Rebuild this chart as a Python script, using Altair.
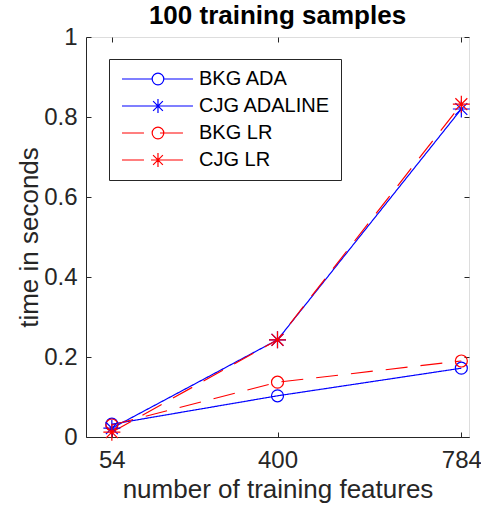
import altair as alt
import pandas as pd

# ---- data ----
series = ["BKG ADA", "CJG ADALINE", "BKG LR", "CJG LR"]
features = [54, 400, 784]
bkg_ada = [0.032, 0.103, 0.172]
cjg_adaline = [0.022, 0.243, 0.820]
bkg_lr = [0.030, 0.137, 0.190]
cjg_lr = [0.012, 0.243, 0.832]
x_ticks = [54, 400, 784]
y_ticks = [0, 0.2, 0.4, 0.6, 0.8, 1]

colors = ["#0000ff", "#0000ff", "#ff0000", "#ff0000"]
markers = ["circle", "star", "circle", "star"]
family = ["ADA", "ADA", "LR", "LR"]

values = [bkg_ada, cjg_adaline, bkg_lr, cjg_lr]
rows = []
for s, m, f, vals in zip(series, markers, family, values):
    for x, v in zip(features, vals):
        rows.append({"features": x, "time": v, "series": s, "marker": m, "family": f})
df = pd.DataFrame(rows)

FONT = "Liberation Sans"
TXT = "#262626"
W, H = 383, 400

STAR = "M-1,0L1,0M0,-1L0,1M-0.7,-0.7L0.7,0.7M-0.7,0.7L0.7,-0.7"

# legend symbols (line + marker), unit = 7px
def circ(cx, r):
    return f"M{cx + r},0A{r},{r} 0 1,0 {cx - r},0A{r},{r} 0 1,0 {cx + r},0"

def star(cx):
    return (f"M{cx - 1},0L{cx + 1},0M{cx},-1L{cx},1"
            f"M{cx - 0.7},-0.7L{cx + 0.7},0.7M{cx - 0.7},0.7L{cx + 0.7},-0.7")

MC = 4.14
R = 0.83
solid_line = "M-1,0L9.14,0"
dash_line = "M-1,0L2.14,0M4.43,0L7.71,0"
legend_paths = [
    f"M-1,0L{MC - R},0M{MC + R},0L9.14,0" + circ(MC, R),
    solid_line + star(MC),
    dash_line + circ(MC, R),
    dash_line + star(MC),
]

xs = alt.Scale(domain=[0, 800], nice=False, zero=False)
ys = alt.Scale(domain=[0, 1], nice=False)
cscale = alt.Scale(domain=series, range=colors)
dscale = alt.Scale(domain=["ADA", "LR"], range=[[1, 0], [22, 13]])

main_x = alt.Axis(values=x_ticks, format="d", title="number of training features",
                  titleFont=FONT, titleFontSize=26, titleFontWeight="normal", titleColor=TXT,
                  titleY=60, titleBaseline="alphabetic",
                  labelFont=FONT, labelFontSize=24, labelColor=TXT, labelPadding=11,
                  labelFlush=False, ticks=False, tickSize=0, grid=False,
                  domainColor=TXT, domainWidth=1)
main_y = alt.Axis(values=y_ticks, format="~g", title="time in seconds",
                  titleFont=FONT, titleFontSize=26, titleFontWeight="normal", titleColor=TXT,
                  titleX=-49, titleY=200, titleAngle=270, titleBaseline="alphabetic",
                  titleAlign="center",
                  labelFont=FONT, labelFontSize=24, labelColor=TXT, labelPadding=9,
                  labelFlush=False, ticks=False, tickSize=0, grid=False,
                  domainColor=TXT, domainWidth=1)

def inner_axis(orient, offset, vals):
    return alt.Axis(orient=orient, offset=offset, values=vals, labels=False, domain=False,
                    ticks=True, tickSize=5, tickColor=TXT, tickWidth=1, grid=False, title=None)

blue_lines = alt.Chart(df).transform_filter(alt.datum.family == "ADA").mark_line(
    strokeWidth=1.2).encode(
    x=alt.X("features:Q", scale=xs, axis=main_x),
    y=alt.Y("time:Q", scale=ys, axis=main_y),
    color=alt.Color("series:N", scale=cscale, legend=None),
    strokeDash=alt.StrokeDash("family:N", scale=dscale, legend=None),
)
red_lines = alt.Chart(df).transform_filter(alt.datum.family == "LR").mark_line(
    strokeWidth=1.2).encode(
    x=alt.X("features:Q", scale=xs, axis=None),
    y=alt.Y("time:Q", scale=ys, axis=None),
    color=alt.Color("series:N", scale=cscale, legend=None),
    strokeDash=alt.StrokeDash("family:N", scale=dscale, legend=None),
)
circles = alt.Chart(df).transform_filter(alt.datum.marker == "circle").mark_point(
    shape="circle", filled=False, size=144, strokeWidth=1.2, opacity=1).encode(
    x=alt.X("features:Q", scale=xs, axis=inner_axis("top", -H, x_ticks)),
    y=alt.Y("time:Q", scale=ys, axis=inner_axis("right", -W, y_ticks)),
    color=alt.Color("series:N", scale=cscale, legend=None),
)
stars = alt.Chart(df).transform_filter(alt.datum.marker == "star").mark_point(
    shape=STAR, filled=False, size=289, strokeWidth=1.2, opacity=1).encode(
    x=alt.X("features:Q", scale=xs, axis=inner_axis("bottom", -H, x_ticks)),
    y=alt.Y("time:Q", scale=ys, axis=inner_axis("left", -W, y_ticks)),
    color=alt.Color("series:N", scale=cscale, legend=None),
)

leg = alt.Legend(title=None, orient="none", legendX=23, legendY=22, padding=10,
                 strokeColor=TXT, fillColor="white", cornerRadius=0,
                 labelFont=FONT, labelFontSize=20, labelColor="#000000",
                 labelOffset=60, rowPadding=7, symbolSize=196, symbolStrokeWidth=1.2,
                 labelLimit=300)
legend_layer = alt.Chart(df).transform_filter("false").mark_point(
    filled=False, opacity=1).encode(
    x=alt.X("features:Q", scale=xs, axis=None),
    y=alt.Y("time:Q", scale=ys, axis=None),
    color=alt.Color("series:N", scale=cscale, legend=leg),
    shape=alt.Shape("series:N", scale=alt.Scale(domain=series, range=legend_paths), legend=leg),
)

chart = alt.layer(legend_layer, blue_lines, red_lines, circles, stars).resolve_axis(
    x="independent", y="independent"
).properties(
    width=W, height=H,
    title=alt.TitleParams("100 training samples", font=FONT, fontSize=26, fontWeight="bold",
                          color="#000000", anchor="middle", offset=-4),
    autosize=alt.AutoSizeParams(type="none"),
    padding={"left": 86, "top": 37, "right": 12, "bottom": 71},
).configure_view(stroke=TXT, strokeWidth=1).configure(background="white")

chart.save("out.html", embed_options={"renderer": "svg", "actions": False})
